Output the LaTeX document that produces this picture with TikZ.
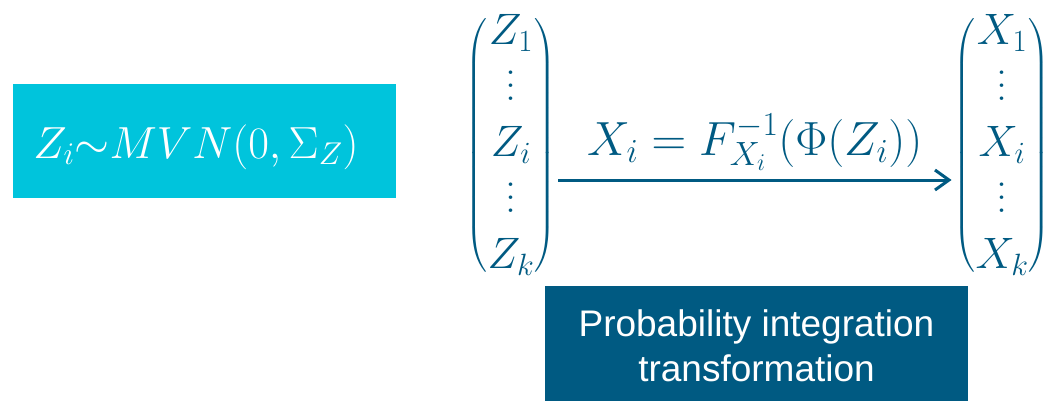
\RequirePackage{fix-cm}
\documentclass[tikz,border=0pt]{standalone}
\usepackage{amsmath}
\usepackage{fontspec}
\setsansfont{Liberation Sans}
\usetikzlibrary{arrows.meta, positioning}
\definecolor{pitcyan}{HTML}{00C4DC}
\definecolor{pitblue}{HTML}{005A82}
% dots that scale with the font
\newcommand{\tallvdots}{\vbox{\baselineskip=13pt\lineskiplimit=0pt
  \hbox{.}\hbox{.}\hbox{.}}}

\begin{document}
\begin{tikzpicture}[
  x=1pt, y=1pt,
  mathtxt/.style={text=pitblue, font=\fontsize{44}{56}\selectfont, inner sep=2pt},
  vec/.style={mathtxt, execute at begin node={\delimitershortfall=40pt\delimiterfactor=800}},
  box/.style={inner sep=0pt, align=center, text=white},
  >={Straight Barb[length=14pt, width=20pt]}
]
  \useasboundingbox (0,0) rectangle (1056,400);

  % Latent Gaussian
  \node[box, fill=pitcyan, minimum width=383pt, minimum height=114pt,
    text height=40pt, text depth=6pt, font=\fontsize{45}{56}\selectfont]
    (dist) at (204,259) {$Z_i{\sim}MVN(0,\Sigma_Z)\kern16pt$};

  % Vectors
  \node[vec] (zvec) at (511,254.5)
    {$\begin{pmatrix} Z_1\\ \tallvdots\\ Z_i\\ \tallvdots\\ Z_k \end{pmatrix}$};
  \node[vec] (xvec) at (1002,254.5)
    {$\begin{pmatrix} X_1\\ \tallvdots\\ X_i\\ \tallvdots\\ X_k \end{pmatrix}$};

  % Transformation arrow
  \draw[->, pitblue, line width=3pt]
    ([yshift=-34.5pt]zvec.east) -- ([yshift=-34.5pt]xvec.west)
    node[mathtxt, font=\fontsize{48}{56}\selectfont, midway, anchor=base, yshift=25pt]
    {$X_i = F_{X_i}^{-1}(\Phi(Z_i))$};

  % Caption box
  \node[box, fill=pitblue, minimum width=423pt, minimum height=120pt,
    font=\sffamily\fontsize{37}{45}\selectfont]
    (pit) at (756.5,54) {Probability integration\\transformation};
\end{tikzpicture}
\end{document}
